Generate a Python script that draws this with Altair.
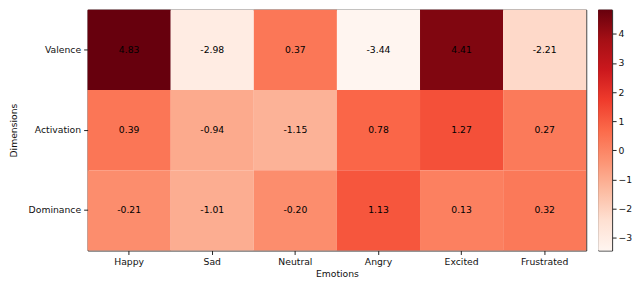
import altair as alt
import pandas as pd

emotions = ["Happy", "Sad", "Neutral", "Angry", "Excited", "Frustrated"]
dimensions = ["Valence", "Activation", "Dominance"]
valence = [4.83, -2.98, 0.37, -3.44, 4.41, -2.21]
activation = [0.39, -0.94, -1.15, 0.78, 1.27, 0.27]
dominance = [-0.21, -1.01, -0.20, 1.13, 0.13, 0.32]
cbar_ticks = [-3, -2, -1, 0, 1, 2, 3, 4]
reds = ["#fff5f0", "#fee0d2", "#fcbba1", "#fc9272", "#fb6a4a",
        "#ef3b2c", "#cb181d", "#a50f15", "#67000d"]

rows = []
for dim, vals in zip(dimensions, [valence, activation, dominance]):
    for emo, v in zip(emotions, vals):
        rows.append({"Emotion": emo, "Dimension": dim, "value": v, "label": f"{v:.2f}"})
df = pd.DataFrame(rows)
vmin, vmax = float(df["value"].min()), float(df["value"].max())
n = len(reds)
dom = [vmin + (vmax - vmin) * i / (n - 1) for i in range(n)]

FONT = "DejaVu Sans"
FS = 9.3
W, H = 501, 242

base = alt.Chart(df).encode(
    x=alt.X("Emotion:N", sort=emotions, title="Emotions",
            axis=alt.Axis(labelAngle=0, ticks=True, tickSize=4, domain=False,
                          labelFontSize=FS, titleFontSize=FS, titleFontWeight="normal",
                          labelColor="#111", titleColor="#111", titlePadding=3,
                          labelPadding=3, labelFont=FONT, titleFont=FONT,
                          tickColor="#222")),
    y=alt.Y("Dimension:N", sort=dimensions, title="Dimensions",
            axis=alt.Axis(ticks=True, tickSize=4, domain=False,
                          labelFontSize=FS, titleFontSize=FS, titleFontWeight="normal",
                          labelColor="#111", titleColor="#111", titlePadding=10,
                          labelPadding=3, labelFont=FONT, titleFont=FONT,
                          tickColor="#222")),
)
rects = base.mark_rect().encode(
    color=alt.Color("value:Q",
                    scale=alt.Scale(domain=dom, range=reds, interpolate="rgb"),
                    legend=None)
)
texts = base.mark_text(font=FONT, fontSize=FS, color="black").encode(text="label:N")
heat = alt.layer(rects, texts).properties(width=W, height=H)

cb_df = pd.DataFrame({"lo": [vmin], "hi": [vmax]})
grad = alt.LinearGradient(
    gradient="linear",
    stops=[alt.GradientStop(color=c, offset=i / (n - 1)) for i, c in enumerate(reds)],
    x1=0, x2=0, y1=1, y2=0,
)
cbar = alt.Chart(cb_df).mark_rect(color=grad).encode(
    y=alt.Y("lo:Q", scale=alt.Scale(domain=[vmin, vmax], nice=False, zero=False),
            axis=alt.Axis(orient="right", values=cbar_ticks, title=None, grid=False,
                          domain=False, tickSize=4, labelFontSize=FS,
                          labelColor="#111", labelPadding=2, labelFont=FONT,
                          tickColor="#222")),
    y2="hi:Q",
).properties(width=14, height=H)

chart = alt.hconcat(heat, cbar, spacing=10).properties(
    padding=0, background="white"
).configure_view(stroke="#222", strokeWidth=1)

chart.save("out.html", embed_options={"renderer": "svg", "actions": False})
